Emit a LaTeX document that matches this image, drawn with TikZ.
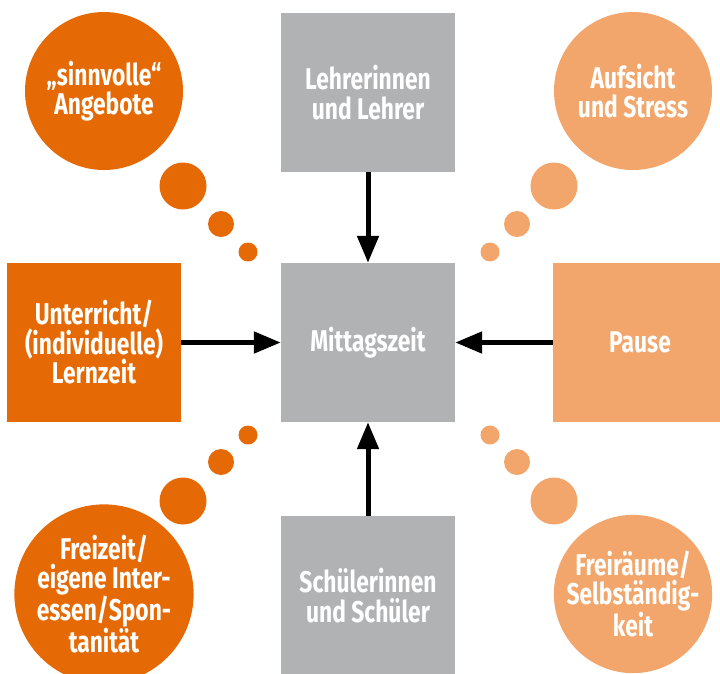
\documentclass[tikz,border=0pt]{standalone}
\usepackage{fontspec}
\setsansfont{Fira Sans}[FakeStretch=0.76]
\usetikzlibrary{arrows.meta, positioning}

\definecolor{dunkelorange}{HTML}{E56A05}
\definecolor{hellorange}{HTML}{F2A66B}
\definecolor{grau}{HTML}{B1B2B4}

\newcommand{\schrift}{\sffamily\bfseries\fontsize{30}{29.5}\selectfont}

\tikzset{
  kasten/.style={rectangle, minimum width=174pt, minimum height=159pt, inner sep=0pt,
    text=white, font=\schrift, align=center},
  blase/.style={circle, minimum size=158pt, inner sep=0pt,
    text=white, font=\schrift, align=center},
  pfeil/.style={line width=5pt, -{Triangle[length=27pt, width=21pt]}}
}

\begin{document}
\begin{tikzpicture}[x=1pt, y=-1pt]
\useasboundingbox (0,0) rectangle (720,673);

% Kaesten
\node[kasten, fill=grau] (mitte) at (368,342.5) {Mittagszeit};
\node[kasten, fill=grau] (lehrer) at (368,92.5) {Lehrerinnen\\und Lehrer};
\node[kasten, fill=grau] (schueler) at (368,595.5) {Schülerinnen\\und Schüler};
\node[kasten, fill=dunkelorange] (unterricht) at (94,342.5) {Unterricht/\\(individuelle)\\Lernzeit};
\node[kasten, fill=hellorange] (pause) at (640,342.5) {Pause};

% Gedankenblasen
\node[blase, fill=dunkelorange] (angebote) at (104,91) {„sinnvolle“\\Angebote};
\node[blase, fill=hellorange] (aufsicht) at (633,91) {Aufsicht\\und Stress};
\node[blase, fill=dunkelorange] (freizeit) at (104,594) {Freizeit/\\eigene Inter-\\essen/Spon-\\tanität};
\node[blase, fill=hellorange] (freiraeume) at (633,594) {Freiräume/\\Selbständig-\\keit};

\fill[dunkelorange] (183,186) circle (23.5) (221,224) circle (13) (248,252) circle (9.5);
\fill[hellorange] (554,186) circle (23.5) (517,224) circle (13) (490,252) circle (9.5);
\fill[dunkelorange] (183,501) circle (23.5) (221,462) circle (13) (248,435) circle (9.5);
\fill[hellorange] (554,501) circle (23.5) (517,462) circle (13) (490,435) circle (9.5);

% Pfeile
\draw[pfeil] (lehrer) -- (mitte);
\draw[pfeil] (schueler) -- (mitte);
\draw[pfeil] (unterricht) -- (mitte);
\draw[pfeil] (pause) -- (mitte);
\end{tikzpicture}
\end{document}
